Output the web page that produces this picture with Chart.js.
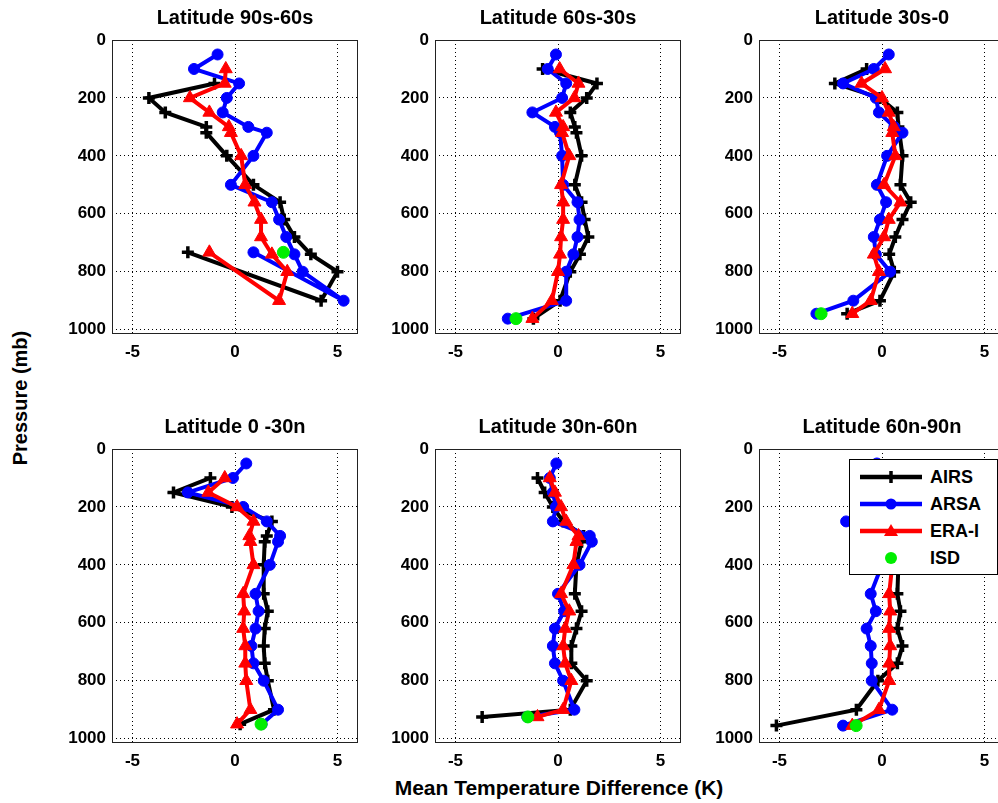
<!DOCTYPE html>
<html>
<head>
<meta charset="utf-8">
<script src="https://cdn.jsdelivr.net/npm/chart.js@4.4.1/dist/chart.umd.min.js"></script>
<style>
html, body { margin: 0; padding: 0; width: 998px; height: 803px; overflow: hidden; background: #fff; }
body { position: relative; font-family: "Liberation Sans", Arial, sans-serif; }
canvas { position: absolute; z-index: 1; }
.lbl { position: absolute; font-weight: bold; font-size: 20px; color: #000; white-space: nowrap; }
#xlabel { left: 559px; top: 788px; font-size: 21px; transform: translate(-50%, -50%); }
#ylabel { left: 20px; top: 398px; transform: translate(-50%, -50%) rotate(-90deg); }
#legend { position: absolute; z-index: 5; left: 849px; top: 459px; width: 147px; height: 114px; border: 1px solid #000; background: #fff; }
.row { position: absolute; left: 8px; height: 20px; display: flex; align-items: center; }
.row span { margin-left: 6px; font-weight: bold; font-size: 18px; color: #000; }
</style>
</head>
<body>
<div class="lbl" id="xlabel">Mean Temperature Difference (K)</div>
<div class="lbl" id="ylabel">Pressure (mb)</div>
<div id="legend"></div>
<script>
// pressure levels (mb); the last point of each profile is the surface
const levels = [50, 100, 150, 200, 250, 300, 320, 400, 500, 560, 620, 680, 740, 800, 900];
const surfacePressure = [733, 962, 945, 950, 925, 955];
const titles = ['Latitude 90s-60s', 'Latitude 60s-30s', 'Latitude 30s-0',
                'Latitude 0 -30n', 'Latitude 30n-60n', 'Latitude 60n-90n'];
const xTickValues = [-5, 0, 5];
const yTickValues = [0, 200, 400, 600, 800, 1000];
const seriesNames = ['AIRS', 'ARSA', 'ERA-I', 'ISD'];

// 90s-60s
const airs1 = [null, null, -1.0, -4.2, -3.4, -1.4, -1.4, -0.4, 0.9, 2.2, 2.4, 2.9, 3.7, 5.0, 4.2, -2.3];
const arsa1 = [-0.85, -2.0, 0.2, -0.4, -0.6, 0.65, 1.55, 0.9, -0.2, 1.8, 2.15, 2.5, 2.9, 3.3, 5.3, 0.9];
const era1  = [null, -0.45, -0.5, -2.2, -1.25, -0.3, -0.2, 0.3, 0.5, 0.95, 1.27, 1.27, 1.8, 2.55, 2.15, -1.25];
// 60s-30s
const airs2 = [null, -0.75, 1.9, 1.4, 0.6, 0.82, 0.9, 1.15, 0.82, 1.15, 1.3, 1.48, 1.07, 0.6, 0.1, -1.2];
const arsa2 = [-0.1, -0.5, 0.4, 0.2, -1.25, -0.15, 0.1, 0.2, 0.25, 0.95, 1.05, 0.95, 0.75, 0.4, 0.4, -2.45];
const era2  = [null, 0.08, 1.0, 0.8, -0.1, 0.25, 0.2, 0.55, 0.15, 0.25, 0.25, 0.15, 0.1, 0.0, -0.3, -1.25];
// 30s-0
const airs3 = [null, -0.75, -2.3, -0.1, 0.75, 0.8, 0.85, 1.0, 0.9, 1.4, 1.0, 0.65, 0.35, 0.6, -0.1, -1.7];
const arsa3 = [0.33, -0.4, -1.9, -0.3, -0.15, 0.6, 1.0, 0.25, -0.25, 0.2, -0.1, -0.4, -0.3, 0.4, -1.4, -3.2];
const era3  = [null, 0.15, -1.0, 0.0, 0.33, 0.57, 0.5, 0.65, 0.1, 0.9, 0.33, 0.1, -0.4, -0.15, -0.55, -1.45];
// 0-30n
const airs4 = [null, -1.2, -3.0, -0.15, 1.8, 1.55, 1.45, 1.4, 1.4, 1.6, 1.45, 1.4, 1.45, 1.6, 1.9, 0.25];
const arsa4 = [0.55, -0.1, -2.3, 0.4, 1.55, 2.2, 2.1, 1.7, 1.0, 1.15, 1.0, 0.8, 0.9, 1.4, 2.1, 1.3];
const era4  = [null, -0.5, -1.3, 0.1, 0.9, 0.7, 0.75, 0.9, 0.4, 0.45, 0.4, 0.5, 0.5, 0.55, 0.75, 0.1];
// 30n-60n
const airs5 = [null, -1.0, -0.65, -0.25, 0.25, 1.25, 1.15, 0.9, 0.82, 1.15, 0.9, 0.65, 0.65, 1.4, 0.6, -3.7];
const arsa5 = [-0.08, -0.4, -0.25, -0.1, -0.25, 1.55, 1.65, 1.05, 0.0, 0.3, -0.15, -0.25, -0.15, 0.25, 0.8, -1.5];
const era5  = [null, -0.4, -0.15, 0.15, 0.4, 1.0, 0.9, 0.75, 0.15, 0.55, 0.35, 0.25, 0.35, 0.65, 0.25, -1.0];
// 60n-90n
const airs6 = [null, 0.3, 0.4, 0.5, 0.6, 0.7, 0.7, 0.8, 0.75, 0.9, 0.75, 1.0, 0.75, -0.2, -1.25, -5.15];
const arsa6 = [-0.25, -0.3, -0.4, -0.6, -1.75, -0.3, 0.0, 0.0, -0.55, -0.3, -0.75, -0.55, -0.5, -0.5, 0.5, -1.9];
const era6  = [null, 0.1, 0.2, 0.3, 0.3, 0.5, 0.5, 0.5, 0.35, 0.4, 0.35, 0.4, 0.35, 0.35, -0.15, -1.45];

// surface station value per panel
const isdTemp = [2.36, -2.05, -2.97, 1.27, -1.47, -1.26];

const airsAll = [airs1, airs2, airs3, airs4, airs5, airs6];
const arsaAll = [arsa1, arsa2, arsa3, arsa4, arsa5, arsa6];
const eraAll = [era1, era2, era3, era4, era5, era6];

const FONT = '"Liberation Sans", Arial, sans-serif';
const styles = [
    { color: '#000000', pointStyle: 'cross', pointRadius: 6, pointBorderWidth: 3.5, line: true },
    { color: '#0000ff', pointStyle: 'circle', pointRadius: 5.5, pointBorderWidth: 1, line: true },
    { color: '#ff0000', pointStyle: 'triangle', pointRadius: 7.5, pointBorderWidth: 1, line: true },
    { color: '#00ee00', pointStyle: 'circle', pointRadius: 6, pointBorderWidth: 1, line: false }
];

function profile(values, sfc) {
    const p = levels.concat([sfc]);
    const pts = [];
    values.forEach((v, i) => { if (v !== null) pts.push({ x: v, y: p[i] }); });
    return pts;
}

// box around the plot area
const frame = {
    id: 'frame',
    beforeDatasetsDraw(chart) {
        const a = chart.chartArea;
        const c = chart.ctx;
        c.save();
        c.strokeStyle = '#222';
        c.lineWidth = 1;
        c.strokeRect(Math.round(a.left) + 0.5, Math.round(a.top) + 0.5, Math.round(a.width) - 1, Math.round(a.height) - 1);
        c.restore();
    }
};

const LEFT_W = 70, TOP_H = 40, BOT_H = 35, PLOT_W = 246, PLOT_H = 294;
const plotLeft = [112, 435, 759];
const plotTop = [40, 449];

for (let k = 0; k < 6; k++) {
    const cv = document.createElement('canvas');
    const w = LEFT_W + PLOT_W + 10, h = TOP_H + PLOT_H + BOT_H;
    cv.width = w; cv.height = h;
    cv.style.left = (plotLeft[k % 3] - LEFT_W) + 'px';
    cv.style.top = (plotTop[Math.floor(k / 3)] - TOP_H) + 'px';
    document.body.appendChild(cv);

    const seriesData = [
        profile(airsAll[k], surfacePressure[k]),
        profile(arsaAll[k], surfacePressure[k]),
        profile(eraAll[k], surfacePressure[k]),
        [{ x: isdTemp[k], y: surfacePressure[k] }]
    ];

    const datasets = seriesNames.map((name, i) => ({
        label: name,
        data: seriesData[i],
        showLine: styles[i].line,
        borderColor: styles[i].color,
        backgroundColor: styles[i].color,
        borderWidth: 4,
        pointStyle: styles[i].pointStyle,
        pointRadius: styles[i].pointRadius,
        pointBorderWidth: styles[i].pointBorderWidth,
        pointBackgroundColor: styles[i].color,
        pointBorderColor: styles[i].color,
        order: 4 - i
    }));

    const tickFont = { family: FONT, size: 17, weight: 'bold' };

    new Chart(cv, {
        type: 'scatter',
        data: { datasets: datasets },
        options: {
            responsive: false,
            animation: false,
            events: [],
            layout: { padding: { left: 0, right: 10, top: 0, bottom: 0 } },
            plugins: {
                legend: { display: false },
                tooltip: { enabled: false },
                title: {
                    display: true,
                    fullSize: false,
                    text: titles[k],
                    color: '#000',
                    font: { family: FONT, size: 20, weight: 'bold', lineHeight: 1 },
                    padding: { top: 8, bottom: 12 }
                }
            },
            scales: {
                x: {
                    type: 'linear',
                    min: -6,
                    max: 6,
                    afterBuildTicks: s => { s.ticks = xTickValues.map(v => ({ value: v })); },
                    afterFit: s => { s.height = BOT_H; },
                    grid: { color: '#000', lineWidth: 1, drawTicks: false },
                    border: { display: false, dash: [1, 3] },
                    ticks: { padding: 8, color: '#000', font: tickFont, callback: v => String(v) }
                },
                y: {
                    type: 'linear',
                    reverse: true,
                    min: 0,
                    max: 1015,
                    afterBuildTicks: s => { s.ticks = yTickValues.map(v => ({ value: v })); },
                    afterFit: s => { s.width = LEFT_W; },
                    grid: { color: '#000', lineWidth: 1, drawTicks: false },
                    border: { display: false, dash: [1, 3] },
                    ticks: { padding: 6, color: '#000', font: tickFont, callback: v => String(v) }
                }
            }
        },
        plugins: [frame]
    });
}

// legend inside the last panel
const legend = document.getElementById('legend');
seriesNames.forEach((name, i) => {
    const st = styles[i];
    const row = document.createElement('div');
    row.className = 'row';
    row.style.top = (7 + i * 27) + 'px';
    let marker = '';
    if (st.pointStyle === 'cross') {
        marker = `<line x1="33" y1="4" x2="33" y2="16" stroke="${st.color}" stroke-width="3.5"/><line x1="27" y1="10" x2="39" y2="10" stroke="${st.color}" stroke-width="3.5"/>`;
    } else if (st.pointStyle === 'triangle') {
        marker = `<polygon points="33,3 40,15 26,15" fill="${st.color}"/>`;
    } else {
        marker = `<circle cx="33" cy="10" r="${st.pointRadius}" fill="${st.color}"/>`;
    }
    const line = st.line ? `<line x1="2" y1="10" x2="64" y2="10" stroke="${st.color}" stroke-width="4.5"/>` : '';
    row.innerHTML = `<svg width="66" height="20">${line}${marker}</svg><span>${name}</span>`;
    legend.appendChild(row);
});
</script>
</body>
</html>
